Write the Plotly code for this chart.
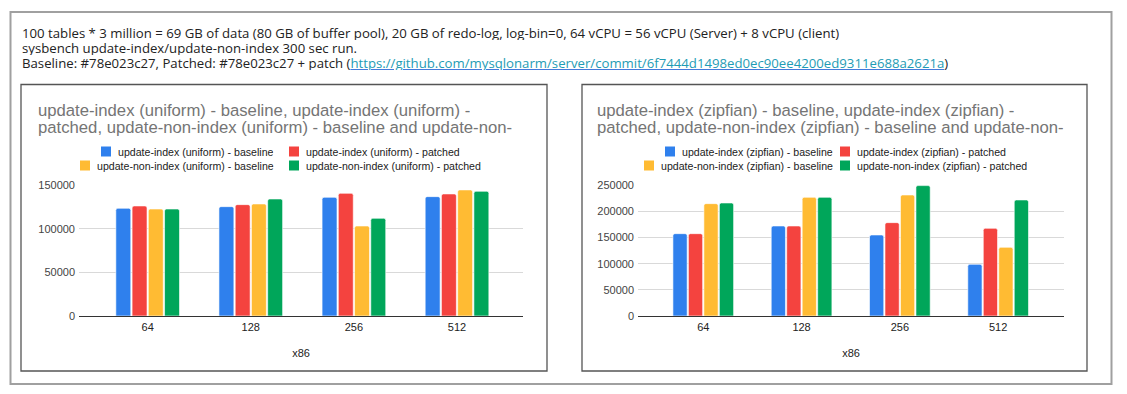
import plotly.graph_objects as go

W, H = 1127, 394

threads = ["64", "128", "256", "512"]
axis_title = "x86"

uniform_names = [
    "update-index (uniform) - baseline",
    "update-index (uniform) - patched",
    "update-non-index (uniform) - baseline",
    "update-non-index (uniform) - patched",
]
uniform_idx_base = [123600, 125500, 136200, 137000]
uniform_idx_patch = [126300, 127800, 140800, 140100]
uniform_nonidx_base = [122800, 128600, 103300, 144700]
uniform_nonidx_patch = [122800, 134300, 112100, 143100]

zipf_names = [
    "update-index (zipfian) - baseline",
    "update-index (zipfian) - patched",
    "update-non-index (zipfian) - baseline",
    "update-non-index (zipfian) - patched",
]
zipf_idx_base = [157500, 172200, 155000, 98900]
zipf_idx_patch = [157500, 172200, 178600, 167700]
zipf_nonidx_base = [214900, 227000, 231500, 131400]
zipf_nonidx_patch = [216200, 227000, 249400, 222000]

uniform_title = [
    "update-index (uniform) - baseline, update-index (uniform) -",
    "patched, update-non-index (uniform) - baseline and update-non-",
]
zipf_title = [
    "update-index (zipfian) - baseline, update-index (zipfian) -",
    "patched, update-non-index (zipfian) - baseline and update-non-",
]

header_lines = [
    "100 tables * 3 million = 69 GB of data (80 GB of buffer pool), 20 GB of redo-log, log-bin=0, 64 vCPU = 56 vCPU (Server) + 8 vCPU (client)",
    "sysbench update-index/update-non-index 300 sec run.",
]
header_prefix = "Baseline: #78e023c27, Patched: #78e023c27 + patch ("
header_link = "https://github.com/mysqlonarm/server/commit/6f7444d1498ed0ec90ee4200ed9311e688a2621a"
header_suffix = ")"

colors = ["#2F80ED", "#F4433F", "#FFBB33", "#00A65A"]

uniform_series = [uniform_idx_base, uniform_idx_patch, uniform_nonidx_base, uniform_nonidx_patch]
zipf_series = [zipf_idx_base, zipf_idx_patch, zipf_nonidx_base, zipf_nonidx_patch]


def px(x):
    return x / W


def py(y):
    return 1 - y / H


fig = go.Figure()

for i, (name, vals) in enumerate(zip(uniform_names, uniform_series)):
    fig.add_trace(go.Bar(x=threads, y=vals, name=name,
                         marker=dict(color=colors[i], line=dict(color="white", width=0.6), cornerradius=2),
                         xaxis="x", yaxis="y", showlegend=False))
for i, (name, vals) in enumerate(zip(zipf_names, zipf_series)):
    fig.add_trace(go.Bar(x=threads, y=vals, name=name,
                         marker=dict(color=colors[i], line=dict(color="white", width=0.6), cornerradius=2),
                         xaxis="x2", yaxis="y2", showlegend=False))

tickfont = dict(family="Arial, Liberation Sans", size=11, color="#444444")
xfont = dict(family="Arial, Liberation Sans", size=11, color="#222222")

ydom = [py(316), py(185.3)]
common_y = dict(showgrid=True, gridcolor="#D9D9D9", gridwidth=1, zeroline=True, zerolinecolor="#333333", zerolinewidth=1,
                dtick=50000, tickformat="d", tickfont=tickfont, ticks="", showline=False, fixedrange=True,
                ticklabelstandoff=3, automargin=False)
common_x = dict(type="category", showgrid=False, zeroline=False, showline=False, ticks="", tickfont=xfont,
                ticklabelstandoff=3, automargin=False, fixedrange=True,
                title=dict(text=axis_title, font=xfont, standoff=17))

fig.update_layout(
    width=W, height=H,
    margin=dict(l=0, r=0, t=0, b=0, pad=0, autoexpand=False),
    paper_bgcolor="white", plot_bgcolor="white",
    showlegend=False,
    barmode="group", bargap=0.37, bargroupgap=0.08,
    xaxis=dict(domain=[px(79), px(523)], range=[-0.666, 3.64], anchor="y", **common_x),
    yaxis=dict(domain=ydom, range=[0, 150000], anchor="x", **common_y),
    xaxis2=dict(domain=[px(638), px(1064)], range=[-0.664, 3.67], anchor="y2", **common_x),
    yaxis2=dict(domain=ydom, range=[0, 250000], anchor="x2", **common_y),
)

shapes = []
annotations = []

# outer box and chart boxes
shapes.append(dict(type="rect", xref="paper", yref="paper", x0=px(10.5), x1=px(1111.5), y0=py(12), y1=py(384),
                   line=dict(color="#A0A0A0", width=2), fillcolor="rgba(0,0,0,0)", layer="below"))
for (x0, x1) in [(21, 547), (582, 1087)]:
    shapes.append(dict(type="rect", xref="paper", yref="paper", x0=px(x0), x1=px(x1), y0=py(84.5), y1=py(371),
                       line=dict(color="#555555", width=1.3), fillcolor="rgba(0,0,0,0)", layer="below"))

hfont = dict(family="Open Sans", size=13.2, color="#222222")
for line, yc in zip(header_lines, [33, 48]):
    annotations.append(dict(text=line, xref="paper", yref="paper", x=px(21), y=py(yc), xanchor="left", yanchor="middle",
                            showarrow=False, font=hfont, height=14, borderpad=0, valign="middle"))
line3 = (header_prefix
         + f"<a href='{header_link}'><u><span style='color:#1E9CB4'>{header_link}</span></u></a>"
         + header_suffix)
annotations.append(dict(text=line3, xref="paper", yref="paper", x=px(21), y=py(63), xanchor="left", yanchor="middle",
                        showarrow=False, font=hfont, height=14, borderpad=0, valign="middle"))

tfont = dict(family="Arial, Liberation Sans", size=16.7, color="#757575")
for title, tx in [(uniform_title, 37), (zipf_title, 596)]:
    for line, yc in zip(title, [110, 128]):
        annotations.append(dict(text=line, xref="paper", yref="paper", x=px(tx), y=py(yc), xanchor="left", yanchor="middle",
                                showarrow=False, font=tfont, height=17, borderpad=0, valign="middle"))

lfont = dict(family="Arial, Liberation Sans", size=10.6, color="#222222")
legend_layout = {
    "uniform": [(101, 151.5), (289, 151.5), (80, 165.5), (289, 165.5)],
    "zipf": [(665, 151.5), (840, 151.5), (644, 165.5), (840, 165.5)],
}
for names, key in [(uniform_names, "uniform"), (zipf_names, "zipf")]:
    for i, (name, (sx, sy)) in enumerate(zip(names, legend_layout[key])):
        shapes.append(dict(type="rect", xref="paper", yref="paper", x0=px(sx), x1=px(sx + 10), y0=py(sy - 5), y1=py(sy + 5),
                           line=dict(width=0), fillcolor=colors[i]))
        annotations.append(dict(text=name, xref="paper", yref="paper", x=px(sx + 16), y=py(sy), xanchor="left",
                                yanchor="middle", showarrow=False, font=lfont, height=12, borderpad=0, valign="middle"))

fig.update_layout(shapes=shapes, annotations=annotations)

fig.write_html("out.html", config={"displayModeBar": False},
               post_script="document.body.style.margin='0';document.body.style.overflow='hidden';")
